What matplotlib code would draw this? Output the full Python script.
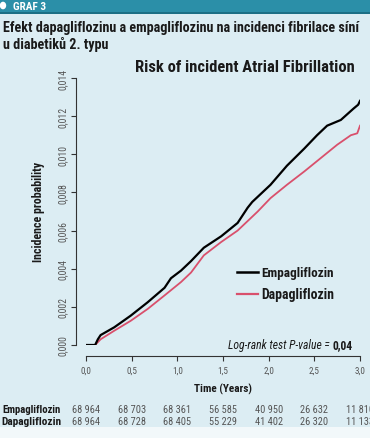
import matplotlib
matplotlib.use("Agg")
import matplotlib.pyplot as plt
from matplotlib.patches import Rectangle, Circle
from matplotlib.lines import Line2D
from matplotlib import font_manager

# ---------------- data ----------------
emp_t = [0.0, 0.10, 0.13, 0.16, 0.31, 0.49, 0.675, 0.86, 0.93, 1.04, 1.15, 1.29, 1.48,
         1.66, 1.77, 1.82, 2.02, 2.20, 2.39, 2.53, 2.64, 2.79, 2.93, 2.98, 3.0]
emp_p = [0.0, 0.0, 0.0003, 0.00052, 0.00093, 0.00154, 0.00224, 0.0030, 0.0035, 0.0039,
         0.0044, 0.0051, 0.0057, 0.0064, 0.0072, 0.0075, 0.0084, 0.0094, 0.0103,
         0.0110, 0.0115, 0.0118, 0.0124, 0.0126, 0.0128]
dap_t = [0.0, 0.10, 0.16, 0.31, 0.49, 0.675, 0.86, 1.04, 1.15, 1.29, 1.48, 1.66,
         1.88, 2.02, 2.20, 2.39, 2.57, 2.75, 2.90, 2.97, 3.0]
dap_p = [0.0, 0.0, 0.0003, 0.00075, 0.00127, 0.00189, 0.0026, 0.0033, 0.0038, 0.0047,
         0.0054, 0.0060, 0.0070, 0.0077, 0.0084, 0.0091, 0.0098, 0.0105, 0.0110,
         0.0111, 0.0115]

x_ticks = [0.0, 0.5, 1.0, 1.5, 2.0, 2.5, 3.0]
x_tick_labels = ["0,0", "0,5", "1,0", "1,5", "2,0", "2,5", "3,0"]
y_ticks = [0.000, 0.002, 0.004, 0.006, 0.008, 0.010, 0.012, 0.014]
y_tick_labels = ["0,000", "0,002", "0,004", "0,006", "0,008", "0,010", "0,012", "0,014"]

risk_emp = ["68 964", "68 703", "68 361", "56 585", "40 950", "26 632", "11 810"]
risk_dap = ["68 964", "68 728", "68 405", "55 229", "41 402", "26 320", "11 133"]

# ---------------- style ----------------
avail = {f.name for f in font_manager.fontManager.ttflist}
fam = "DejaVu Sans"
for cand in ["Roboto Condensed", "Liberation Sans Narrow", "DejaVu Sans Condensed",
             "Open Sans Condensed", "Noto Sans Condensed", "Roboto", "Liberation Sans"]:
    if cand in avail:
        fam = cand
        break
plt.rcParams["font.family"] = [fam, "DejaVu Sans"]

BG = "#dcedf3"
TEAL = "#2b8fa8"
PINK = "#d9506c"
GRAY = "#555555"
DARK = "#1a1a1a"

W, H = 370, 439
fig = plt.figure(figsize=(W / 100, H / 100), dpi=100)
fig.patch.set_facecolor(BG)
renderer = fig.canvas.get_renderer()


def fx(px):
    return px / W


def fy(py):
    return 1 - py / H


def fit(t, target, vertical=False):
    bb = t.get_window_extent(renderer=renderer)
    cur = bb.height if vertical else bb.width
    if cur > 0:
        t.set_fontsize(t.get_fontsize() * target / cur)
    return t.get_fontsize()


# header bar
fig.patches.append(Rectangle((0, fy(13)), 1, 13 / H, transform=fig.transFigure,
                             facecolor=TEAL, edgecolor="none", zorder=0))
fig.patches.append(Rectangle((0, fy(14.5)), 1, 1.5 / H, transform=fig.transFigure,
                             facecolor="#1c6f85", edgecolor="none", zorder=0))
fig.patches.append(Circle((fx(3), fy(6.5)), 3.2 / W, transform=fig.transFigure,
                          facecolor="white", edgecolor="none", zorder=1))
t = fig.text(fx(13), fy(6.8), "GRAF 3", color="white", fontsize=7, fontweight="bold",
             va="center", ha="left")
fit(t, 33)
# light strip at bottom
fig.patches.append(Rectangle((0, 0), 1, 11 / H, transform=fig.transFigure,
                             facecolor="#f2f8fa", edgecolor="none", zorder=0))

t1 = fig.text(fx(3), fy(28), "Efekt dapagliflozinu a empagliflozinu na incidenci fibrilace síní",
              fontsize=10, color=DARK, va="center", ha="left", fontweight="semibold")
fs = fit(t1, 358)
fig.text(fx(3), fy(45), "u diabetiků 2. typu",
         fontsize=fs, color=DARK, va="center", ha="left", fontweight="semibold")

# ---------------- axes ----------------
ax = fig.add_axes([fx(86), fy(346), (360 - 86) / W, (346 - 79) / H])
ax.set_facecolor("none")
ax.set_xlim(0, 3)
ax.set_ylim(0, 0.014)

ax.plot(emp_t, emp_p, color="black", lw=1.6, label="Empagliflozin", zorder=3,
        solid_joinstyle="round")
ax.plot(dap_t, dap_p, color=PINK, lw=1.3, label="Dapagliflozin", zorder=2,
        solid_joinstyle="round")

for s in ["top", "right"]:
    ax.spines[s].set_visible(False)
ax.spines["left"].set_position(("outward", 7.5))
ax.spines["bottom"].set_position(("outward", 8))
ax.spines["left"].set_bounds(0, 0.014)
ax.spines["bottom"].set_bounds(0, 3)
for s in ["left", "bottom"]:
    ax.spines[s].set_color("#333333")
    ax.spines[s].set_linewidth(0.8)

ax.set_xticks(x_ticks)
xl = ax.set_xticklabels(x_tick_labels, fontsize=7.5, color=GRAY)
ax.set_yticks(y_ticks)
yl = ax.set_yticklabels(y_tick_labels, fontsize=7, color=GRAY, rotation=90, va="center")
ax.tick_params(axis="both", direction="out", length=3.5, width=0.8, color="#333333")
ax.tick_params(axis="x", pad=3.5)
ax.tick_params(axis="y", pad=2)
fs_x = fit(xl[0], 11)
for l in xl:
    l.set_fontsize(fs_x)
fs_y = fit(yl[0], 21, vertical=True)
for l in yl:
    l.set_fontsize(fs_y)

xlab = ax.set_xlabel("Time (Years)", fontsize=8.5, fontweight="bold", color=DARK)
fit(xlab, 58)
ylab = ax.set_ylabel("Incidence probability", fontsize=8.5, fontweight="bold", color=DARK)
fit(ylab, 100, vertical=True)
ax.yaxis.set_label_coords(-(86 - 45) / 274, 0.5)
ax.xaxis.set_label_coords((223 - 86) / 274, -(384 - 346) / 267)

tt = fig.text(fx(245), fy(68), "Risk of incident Atrial Fibrillation", fontsize=10,
              color=DARK, fontweight="semibold", ha="center", va="center")
fit(tt, 219)

# legend (drawn manually from the series labels)
for yy, col, lw, lab in [(273, "black", 1.8, "Empagliflozin"), (295, PINK, 1.6, "Dapagliflozin")]:
    fig.add_artist(Line2D([fx(237), fx(258)], [fy(yy), fy(yy)], color=col, lw=lw))
    lt = fig.text(fx(261), fy(yy), lab, fontsize=9.5, fontweight="semibold", color=DARK,
                  ha="left", va="center")
    fit(lt, 73)

# P-value line
p1 = fig.text(fx(228), fy(346), "Log-rank test P-value = ", fontsize=8, style="italic",
              color=DARK, ha="left", va="center")
fsp = fit(p1, 104)
bb = p1.get_window_extent(renderer=renderer)
p2 = fig.text(bb.x1 / fig.dpi / fig.get_figwidth(), fy(346), "0,04", fontsize=fsp,
              fontweight="bold", color=DARK, ha="left", va="center")

# ---------------- risk table ----------------
for yy, lab, vals in [(410, "Empagliflozin", risk_emp), (422.5, "Dapagliflozin", risk_dap)]:
    rl = fig.text(fx(61), fy(yy), lab, fontsize=7.5, fontweight="bold", color=DARK,
                  ha="right", va="center")
    fit(rl, 59)
    fsn = None
    for xv, v in zip(x_ticks, vals):
        px = 86 + xv / 3 * 274
        tn = fig.text(fx(px), fy(yy), v, fontsize=7.5, color=GRAY, ha="center",
                      va="center")
        if fsn is None:
            fsn = fit(tn, 28)
        tn.set_fontsize(fsn)

fig.savefig("out.png", dpi=100, facecolor=fig.get_facecolor())
